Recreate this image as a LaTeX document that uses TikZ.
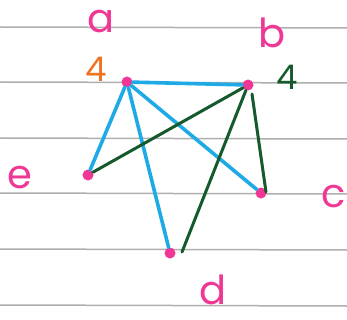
\documentclass[tikz,border=0pt]{standalone}
\usepackage{fontspec}
\setmainfont{Poppins}
\definecolor{paperline}{RGB}{175,175,175}
\definecolor{edgeblue}{RGB}{30,170,230}
\definecolor{edgegreen}{RGB}{20,90,45}
\definecolor{dotpink}{RGB}{240,55,150}
\definecolor{numorange}{RGB}{240,115,35}
\tikzset{
  rule/.style={draw=paperline, line width=1.5pt},
  vtx/.style={circle, fill=dotpink, inner sep=0pt, minimum size=11pt},
  lbl/.style={text=dotpink, anchor=base, inner sep=0pt, font=\fontsize{40}{40}\selectfont},
  numlbl/.style={anchor=base, inner sep=0pt, font=\fontsize{34}{34}\selectfont},
  bedge/.style={draw=edgeblue, line width=3.6pt, line cap=round},
  gedge/.style={draw=edgegreen, line width=3pt, line cap=round}
}
\begin{document}
\begin{tikzpicture}[x=1pt,y=-1pt]
\useasboundingbox[fill=white] (0,0) rectangle (347,320);
% ruled paper
\foreach \yy in {27,82,138,193,249,305} {
  \draw[rule] (0,\yy) -- (347,\yy+1);
}
% vertices
\node[vtx] (a) at (127,82) {};
\node[vtx] (b) at (248,85) {};
\node[vtx] (e) at (88,175) {};
\node[vtx] (c) at (261,193) {};
\node[vtx] (d) at (170,253) {};
\coordinate (bd) at (182,252);
\coordinate (bc) at (266,192);
\coordinate (bs) at (252,94);
% edges
\draw[bedge] (a) -- (b);
\draw[bedge] (a) -- (e);
\draw[bedge] (a) -- (d);
\draw[bedge] (a) -- (c);
\draw[gedge] (b) -- (e);
\draw[gedge] (b) -- (bd);
\draw[gedge] (bs) -- (bc);
% labels
\node[lbl] (la) at (101,33) {a};
\node[lbl] (lb) at (272,48) {b};
\node[lbl] (le) at (20,188) {e};
\node[lbl] (lc) at (334,207) {c};
\node[lbl] (ld) at (213,304) {d};
\node[numlbl, text=numorange] (na) at (96,82) {4};
\node[numlbl, text=edgegreen] (nb) at (287,90) {4};
\end{tikzpicture}
\end{document}
